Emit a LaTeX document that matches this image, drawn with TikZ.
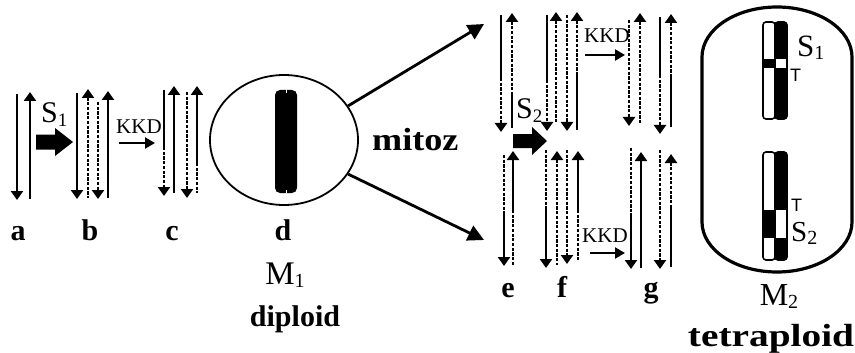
\documentclass[tikz,border=0pt]{standalone}
\usepackage{fontspec}
\setmainfont{Liberation Serif}
\newfontfamily\labelsans{Liberation Sans}
\usetikzlibrary{arrows.meta,shapes.geometric}

% lowered subscript set in the text font
\newcommand{\subtxt}[3]{\raisebox{-#2}{\fontsize{#3}{#3}\selectfont #1}}

\tikzset{
  strandsolid/.style={line width=2.8pt},
  stranddash/.style={line width=2.8pt, dash pattern=on 3.2pt off 1.5pt},
  tipdown/.style={-{Triangle[width=12pt,length=9pt]}},
  tipup/.style={{Triangle[width=12pt,length=9pt]}-},
  thinarrow/.style={line width=2.2pt, -{Triangle[width=11pt,length=10pt]}},
  bigarrow/.style={line width=2.8pt, -{Triangle[width=16pt,length=16pt]}},
  lbl/.style={font=\fontsize{30}{30}\selectfont\bfseries, anchor=base, inner sep=0pt},
  kkd/.style={font=\fontsize{21}{21}\selectfont, anchor=base west, inner sep=0pt},
  sname/.style={font=\fontsize{30}{30}\selectfont, anchor=base west, inner sep=0pt},
  tlabel/.style={font=\fontsize{18}{18}\selectfont\labelsans, anchor=base west, inner sep=0pt},
  chromw/.style={draw=black, fill=white, line width=1.6pt, rounded corners=3pt},
  chromb/.style={draw=black, fill=black, line width=1.6pt, rounded corners=3pt},
}

\begin{document}
\begin{tikzpicture}[x=1pt,y=-1pt]
\useasboundingbox (0,0) rectangle (855,353);

% ---------- a ----------
\draw[strandsolid,tipdown] (17,94) -- (17,200);
\draw[strandsolid,tipup]   (30,92) -- (30,199);

% S1 fat arrow
\fill (36,134.5) -- (55,134.5) -- (55,128) -- (73,142) -- (55,156) -- (55,149.5) -- (36,149.5) -- cycle;
\node[sname] (s1) at (41,123) {S\subtxt{1}{4pt}{19}};

% ---------- b ----------
\draw[strandsolid,tipdown] (77,93) -- (77,199);
\draw[stranddash,tipup]    (88,89) -- (88,198);
\draw[stranddash,tipdown]  (98,102) -- (98,199);
\draw[strandsolid,tipup]   (108,91) -- (108,198);

% KKD
\node[kkd] (kkd1) at (116,134) {KKD};
\coordinate (k1s) at (119,143);
\coordinate (k1e) at (155,143);
\draw[thinarrow] (k1s) -- (k1e);

% ---------- c ----------
\draw[strandsolid] (164,90) -- (164,147);
\draw[stranddash,tipdown] (164,147) -- (164,196);
\draw[strandsolid,tipup] (174,86) -- (174,193);
\draw[stranddash,tipdown] (187,92) -- (187,198);
\draw[strandsolid,tipup] (197,86) -- (197,163);
\draw[stranddash] (197,163) -- (197,193);

% ---------- d : diploid cell ----------
\node[ellipse, draw, line width=1.8pt, minimum width=148pt, minimum height=130pt, inner sep=0pt] (cellA) at (284,140) {};
\fill[rounded corners=5pt] (275,90) rectangle (297,193);
\draw[white, line width=0.8pt] (286,90) -- (286,93);
\draw[white, line width=0.8pt] (286,190) -- (286,193);

% mitosis arrows
\coordinate (upEnd) at (484,24);
\coordinate (lowEnd) at (484,240);
\draw[bigarrow] (cellA.28) -- (upEnd);
\draw[bigarrow] (cellA.-28) -- (lowEnd);
\node[font=\fontsize{32}{32}\selectfont\bfseries, anchor=base west, inner sep=0pt] (mitoz) at (372,150) {\scalebox{1.13}[1]{mitoz}};

% labels a-d, M1
\node[lbl] (la) at (18,240) {a};
\node[lbl] (lb) at (90,240) {b};
\node[lbl] (lc) at (172,240) {c};
\node[lbl] (ld) at (283,240) {d};
\node[font=\fontsize{33}{33}\selectfont, anchor=base, inner sep=0pt] (m1) at (285,284) {M\subtxt{1}{3pt}{20}};
\node[lbl] (dip) at (295,326) {diploid};

% ---------- upper e ----------
\draw[strandsolid] (501,15) -- (501,78);
\draw[stranddash,tipdown] (501,78) -- (501,132);
\draw[stranddash,tipup] (512,13) -- (512,93);
\draw[strandsolid] (512,93) -- (512,128);

% S2 fat arrow
\fill (513,134) -- (532,134) -- (532,127) -- (547,141) -- (532,155) -- (532,148) -- (513,148) -- cycle;
\node[sname] (s2) at (516,118) {S\subtxt{2}{4pt}{19}};

% ---------- upper f ----------
\draw[strandsolid] (547,15) -- (547,80);
\draw[stranddash,tipdown] (547,80) -- (547,131);
\draw[stranddash,tipup] (556,12) -- (556,123);
\draw[stranddash,tipdown] (567,15) -- (567,131);
\draw[stranddash,tipup] (577,12) -- (577,72);
\draw[strandsolid] (577,72) -- (577,130);

\node[kkd] (kkd2) at (584,43) {KKD};
\coordinate (k2s) at (585,55);
\coordinate (k2e) at (625,55);
\draw[thinarrow] (k2s) -- (k2e);

% ---------- upper g ----------
\draw[stranddash,tipdown] (629,20) -- (629,126);
\draw[stranddash,tipup] (640,13) -- (640,123);
\draw[strandsolid] (660,17) -- (660,75);
\draw[stranddash,tipdown] (660,75) -- (660,134);
\draw[stranddash,tipup] (671,14) -- (671,77);
\draw[strandsolid] (671,77) -- (671,127);

% ---------- lower e ----------
\draw[stranddash] (504,155) -- (504,212);
\draw[strandsolid,tipdown] (504,212) -- (504,266);
\draw[strandsolid,tipup] (513,151) -- (513,210);
\draw[stranddash] (513,210) -- (513,265);

% ---------- lower f ----------
\draw[stranddash] (546,150) -- (546,207);
\draw[strandsolid,tipdown] (546,207) -- (546,268);
\draw[stranddash,tipup] (557,151) -- (557,265);
\draw[stranddash,tipdown] (567,150) -- (567,264);
\draw[strandsolid,tipup] (578,151) -- (578,210);
\draw[stranddash] (578,210) -- (578,260);

\node[kkd] (kkd3) at (582,242) {KKD};
\coordinate (k3s) at (590,253);
\coordinate (k3e) at (625,253);
\draw[thinarrow] (k3s) -- (k3e);

% ---------- lower g ----------
\draw[stranddash] (631,148) -- (631,213);
\draw[strandsolid,tipdown] (631,213) -- (631,269);
\draw[strandsolid,tipup] (641,152) -- (641,268);
\draw[stranddash,tipdown] (660,150) -- (660,269);
\draw[stranddash,tipup] (671,154) -- (671,207);
\draw[strandsolid] (671,207) -- (671,267);

\node[lbl] (le) at (508,297) {e};
\node[lbl] (lf) at (562,297) {f};
\node[lbl] (lg) at (651,297) {g};

% ---------- M2 : tetraploid cell ----------
\draw[line width=3.2pt] (702,57) arc[start angle=180, end angle=0, x radius=75, y radius=-50]
  -- (852,222) arc[start angle=0, end angle=-180, x radius=75, y radius=-50] -- cycle;

% upper chromosome
\draw[chromw] (763,22) rectangle (775,119);
\draw[chromb] (775,22) rectangle (787,119);
\fill (763,59) rectangle (775,68);
\fill[white] (776,59) rectangle (786,68);
\node[tlabel] (t1) at (790,82) {T};
\node[sname, font=\fontsize{31}{31}\selectfont] (s1b) at (797,57) {S\subtxt{1}{3pt}{20}};

% lower chromosome
\draw[chromw] (763,152) rectangle (775,260);
\draw[chromb] (775,152) rectangle (787,260);
\fill (763,210) rectangle (775,238);
\fill[white] (776,210) rectangle (786,238);
\node[tlabel] (t2) at (791,211) {T};
\node[sname, font=\fontsize{29}{29}\selectfont] (s2b) at (791,241) {S\subtxt{2}{3pt}{20}};

\node[font=\fontsize{32}{32}\selectfont, anchor=base, inner sep=0pt] (m2) at (779,305) {M\subtxt{2}{3pt}{20}};
\node[lbl, font=\fontsize{32}{32}\selectfont\bfseries] (tet) at (771,346) {\scalebox{1.23}[1]{tetraploid}};

\end{tikzpicture}
\end{document}
